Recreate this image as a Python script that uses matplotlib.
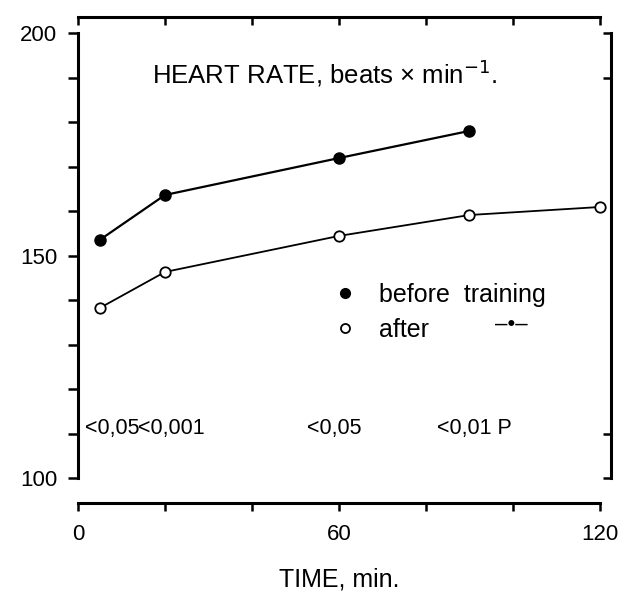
import matplotlib.pyplot as plt
from matplotlib.lines import Line2D

plt.rcParams['font.family'] = ['Liberation Sans', 'DejaVu Sans']

time_before = [5, 20, 60, 90]
hr_before = [153.5, 163.6, 171.9, 178]
time_after = [5, 20, 60, 90, 120]
hr_after = [138.2, 146.3, 154.4, 159.1, 160.9]

p_labels = ["<0,05", "<0,001", "<0,05", "<0,01 P"]
p_x = [1.5, 13.8, 52.6, 82.5]
p_y = 111.2

fig = plt.figure(figsize=(6.24, 5.92), dpi=100)
ax = fig.add_axes([78 / 624, 1 - 478 / 592, 522 / 624, 445 / 592])

ax.plot(time_before, hr_before, color='black', lw=1.6, marker='o', ms=8,
        mfc='black', mec='black', clip_on=False, zorder=3)
ax.plot(time_after, hr_after, color='black', lw=1.3, marker='o', ms=7.5,
        mfc='white', mec='black', mew=1.3, clip_on=False, zorder=3)

ax.set_xlim(0, 120)
ax.set_ylim(100, 200)

# spines
for s in ['left', 'bottom', 'top', 'right']:
    ax.spines[s].set_linewidth(2.2)
ax.spines['bottom'].set_position(('outward', 18))
ax.spines['top'].set_position(('outward', 11.5))
ax.spines['right'].set_visible(False)

ax.set_yticks(range(100, 201, 10))
ax.set_yticklabels(['100', '', '', '', '', '150', '', '', '', '', '200'], fontsize=16)
ax.tick_params(axis='y', direction='out', length=7, width=1.8, pad=8)

ax.set_xticks(range(0, 121, 20))
ax.set_xticklabels(['0', '', '', '60', '', '', '120'], fontsize=16)
ax.tick_params(axis='x', direction='out', length=6, width=1.8, pad=9, top=True)
for t in ax.xaxis.get_major_ticks():
    t.tick2line.set_marker(3)  # top ticks point down

# right side frame with a few inward ticks
sec = ax.secondary_yaxis('right')
sec.set_yticks([100, 110, 190, 200])
sec.tick_params(direction='in', length=6, width=1.8, labelright=False)
sec.spines['right'].set_linewidth(2.2)
sec.spines['right'].set_position(('outward', 8))

ax.set_xlabel("TIME, min.", fontsize=18, labelpad=16)

ax.text(0.473, 0.91, "HEART RATE, beats \u00d7 min$^{-1}$.", transform=ax.transAxes,
        ha='center', va='center', fontsize=18.5)

for lab, x in zip(p_labels, p_x):
    ax.text(x, p_y, lab, fontsize=15.5, ha='left', va='center')

handles = [Line2D([], [], ls='none', marker='o', ms=7, mfc='black', mec='black'),
           Line2D([], [], ls='none', marker='o', ms=6.5, mfc='white', mec='black', mew=1.3)]
ax.legend(handles, ['before  training', 'after'], loc='center left',
          bbox_to_anchor=(0.476, 0.372), frameon=False, fontsize=18,
          handlelength=0.5, handletextpad=1.1, labelspacing=0.42, borderpad=0)
ax.text(0.83, 0.344, "\u2013\u2022\u2013", transform=ax.transAxes, fontsize=16,
        ha='center', va='center')

fig.savefig("out.png", dpi=100)
